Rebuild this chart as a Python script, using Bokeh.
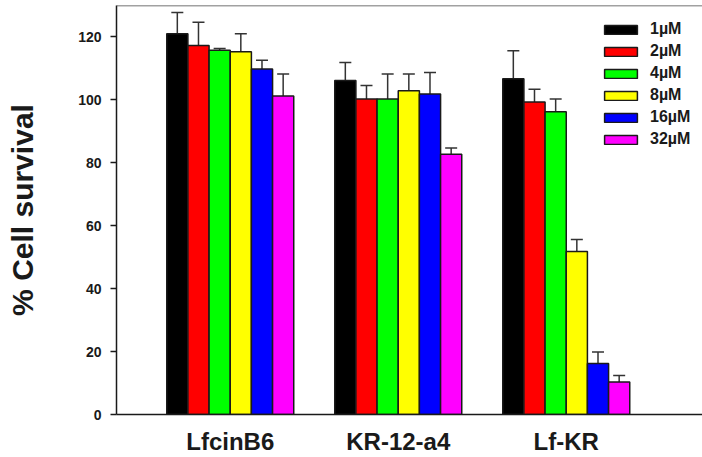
from bokeh.plotting import figure
from bokeh.models import (ColumnDataSource, Whisker, TeeHead, FixedTicker,
                          Legend, LegendItem, Span)
from bokeh.embed import file_html
from bokeh.resources import INLINE

# Peptides tested and the concentrations applied
categories = ["LfcinB6", "KR-12-a4", "Lf-KR"]
concentrations = ["1\u00b5M", "2\u00b5M", "4\u00b5M", "8\u00b5M", "16\u00b5M", "32\u00b5M"]
colors = ["#000000", "#ff0000", "#00ff00", "#ffff00", "#0000ff", "#ff00ff"]

# Mean % cell survival per concentration (1, 2, 4, 8, 16, 32 uM)
lfcinb6_mean = [121.0, 117.3, 115.8, 115.3, 109.8, 101.2]
kr12a4_mean = [106.2, 100.3, 100.3, 102.9, 101.9, 82.7]
lfkr_mean = [106.7, 99.3, 96.2, 51.8, 16.2, 10.3]

# Upper error (SD) per concentration
lfcinb6_err = [6.8, 7.4, 0.5, 5.7, 2.8, 7.0]
kr12a4_err = [5.7, 4.3, 7.9, 5.3, 6.8, 2.0]
lfkr_err = [8.9, 4.1, 4.1, 3.8, 3.7, 2.1]

y_ticks = [0, 20, 40, 60, 80, 100, 120]

means = [lfcinb6_mean, kr12a4_mean, lfkr_mean]
errs = [lfcinb6_err, kr12a4_err, lfkr_err]
group_pos = [1, 2, 3]
bar_w = 0.126

FONT = "Liberation Sans"
INK = "#1a1a1a"

p = figure(width=702, height=457, x_range=(0.323, 3.811), y_range=(0, 130),
           output_backend="svg", toolbar_location=None,
           min_border_left=116, min_border_right=0, min_border_top=5,
           min_border_bottom=38)
p.outline_line_color = None
p.xgrid.grid_line_color = None
p.ygrid.grid_line_color = None
p.background_fill_color = "white"

items = []
n = len(concentrations)
for i, (conc, col) in enumerate(zip(concentrations, colors)):
    off = (i - (n - 1) / 2) * bar_w
    xs = [g + off for g in group_pos]
    top = [m[i] for m in means]
    up = [m[i] + e[i] for m, e in zip(means, errs)]
    src = ColumnDataSource(dict(x=xs, top=top, upper=up))
    r = p.vbar(x="x", top="top", width=bar_w, bottom=0, source=src,
               fill_color=col, line_color=INK, line_width=1.5)
    w = Whisker(base="x", lower="top", upper="upper", source=src,
                dimension="height", line_color="#333333", line_width=1.5,
                upper_head=TeeHead(size=12, line_color="#333333", line_width=1.5),
                lower_head=None)
    p.add_layout(w)
    items.append(LegendItem(label=conc, renderers=[r]))

# top border of the plotting area
p.add_layout(Span(location=130, dimension="width", line_color="#444444",
                  line_width=1.5))

# y axis
yax = p.yaxis[0]
yax.ticker = FixedTicker(ticks=y_ticks)
yax.minor_tick_line_color = None
yax.major_tick_in = 0
yax.major_tick_out = 6
yax.axis_line_width = 1.5
yax.axis_line_color = INK
yax.major_tick_line_width = 1.5
yax.major_tick_line_color = INK
yax.major_label_text_font = FONT
yax.major_label_text_font_style = "bold"
yax.major_label_text_font_size = "14px"
yax.major_label_text_color = INK
yax.major_label_standoff = 9
yax.axis_label = "% Cell survival"
yax.axis_label_text_font = FONT
yax.axis_label_text_font_style = "bold"
yax.axis_label_text_font_size = "30px"
yax.axis_label_text_color = INK
yax.axis_label_standoff = 36

# x axis with the peptide names
xax = p.xaxis[0]
xax.ticker = FixedTicker(ticks=group_pos)
xax.major_label_overrides = {g: c for g, c in zip(group_pos, categories)}
xax.major_tick_line_color = None
xax.minor_tick_line_color = None
xax.axis_line_width = 1.5
xax.axis_line_color = INK
xax.major_label_text_font = FONT
xax.major_label_text_font_style = "bold"
xax.major_label_text_font_size = "24px"
xax.major_label_text_color = INK
xax.major_label_standoff = 7

legend = Legend(items=items, location=(484, 266))
legend.border_line_color = None
legend.background_fill_alpha = 0
legend.padding = 0
legend.margin = 0
legend.glyph_width = 41
legend.glyph_height = 11
legend.label_text_font = FONT
legend.label_text_font_style = "bold"
legend.label_text_font_size = "16px"
legend.label_text_color = INK
legend.label_height = 17
legend.label_standoff = 9
legend.spacing = 4
p.add_layout(legend)

open("out.html", "w").write(file_html(p, INLINE))
